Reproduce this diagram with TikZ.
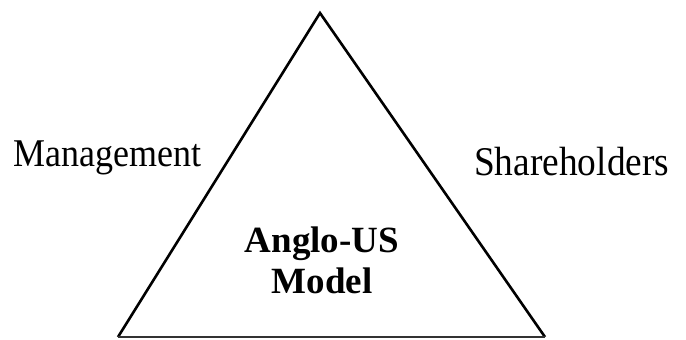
\documentclass[tikz,border=0pt]{standalone}
\usepackage{fontspec}
\setmainfont{Liberation Serif}
\newfontfamily\tallserif[FakeStretch=0.916]{Liberation Serif}
\begin{document}
\begin{tikzpicture}[x=1pt,y=-1pt,
  lbl/.style={inner sep=0pt},
  ctr/.style={inner sep=0pt,align=center,font=\fontsize{37}{41}\selectfont\bfseries}]
\useasboundingbox (0,0) rectangle (686,340);
\coordinate (top) at (320,13);
\coordinate (bl) at (118,337);
\coordinate (br) at (545,337);
\draw[line width=2.6pt,line join=miter] (bl) -- (top) -- (br);
\draw[line width=2pt,black!80] (bl) -- (br);
\node[lbl,anchor=base west,font=\tallserif\fontsize{39.3}{41}\selectfont] (mgmt) at (13,166.5) {Management};
\node[lbl,anchor=base west,font=\tallserif\fontsize{40.8}{41}\selectfont] (share) at (474,175) {Shareholders};
\node[ctr,anchor=base] (model) at (322,293) {Anglo-US\\Model};
\end{tikzpicture}
\end{document}
